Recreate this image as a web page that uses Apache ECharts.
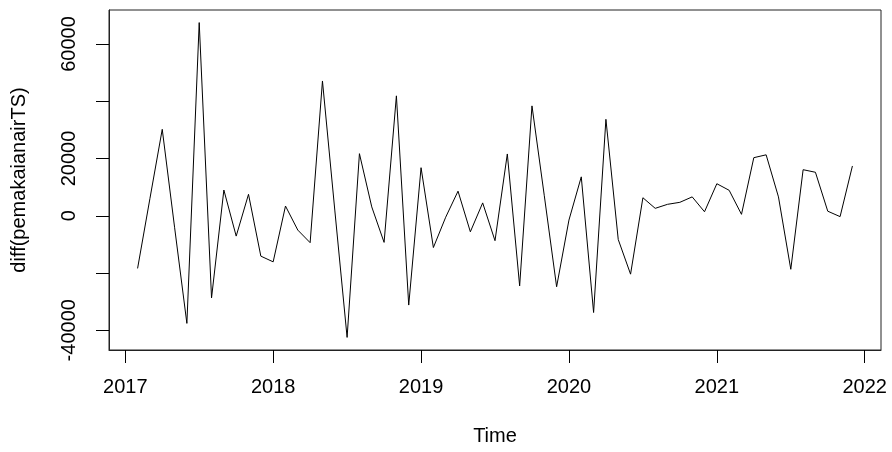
<!DOCTYPE html>
<html>
<head>
<meta charset="utf-8">
<script src="https://cdn.jsdelivr.net/npm/echarts@6/dist/echarts.min.js"></script>
<style>html,body{margin:0;padding:0;background:#fff}#c{width:892px;height:452px}</style>
</head>
<body>
<div id="c"></div>
<script>
const startYear = 2017;
const startMonth = 2; // first differenced observation: Feb 2017
const values = [
  -18400, 6000, 30200, -4000, -37600, 67500, -28700, 9000, -7100, 7500, -14100,
  -16100, 3400, -5000, -9400, 47100, 2000, -42500, 21700, 3100, -9300, 41900, -31200,
  16800, -11100, -500, 8600, -5600, 4500, -8700, 21600, -24500, 38400, 7000, -24800,
  -1500, 13600, -33800, 33700, -8300, -20400, 6300, 2600, 4000, 4700, 6600, 1400,
  11200, 8900, 500, 20300, 21300, 6600, -18700, 16100, 15200, 1600, -300, 17400
];
const xTicks = [2017, 2018, 2019, 2020, 2021, 2022];
const yTicks = [-40000, -20000, 0, 20000, 40000, 60000];
const yLabels = [-40000, 0, 20000, 60000];
const xName = 'Time';
const yName = 'diff(pemakaianairTS)';

const data = values.map((v, i) => [startYear + (startMonth - 1 + i) / 12, v]);
const xs = data.map(d => d[0]);
const xMin = Math.min(...xs), xMax = Math.max(...xs);
const yMin = Math.min(...values), yMax = Math.max(...values);
const xPad = (xMax - xMin) * 0.04, yPad = (yMax - yMin) * 0.04;

const font = '"Liberation Sans", Arial, sans-serif';
const chart = echarts.init(document.getElementById('c'), null, {renderer: 'canvas'});
chart.setOption({
  animation: false,
  backgroundColor: '#fff',
  grid: {left: 109, right: 11, top: 10, bottom: 102, show: true, borderColor: '#222', borderWidth: 1, backgroundColor: 'transparent'},
  xAxis: {
    type: 'value', min: xMin - xPad, max: xMax + xPad,
    name: xName, nameLocation: 'middle', nameGap: 76,
    nameTextStyle: {fontFamily: font, fontSize: 20, color: '#000'},
    axisLine: {show: true, onZero: false, lineStyle: {color: '#222', width: 1}},
    splitLine: {show: false},
    axisTick: {show: true, length: 13, customValues: xTicks, lineStyle: {color: '#000', width: 1}},
    axisLabel: {customValues: xTicks, margin: 27, fontFamily: font, fontSize: 20, color: '#000', formatter: v => String(v)}
  },
  yAxis: {
    type: 'value', min: yMin - yPad, max: yMax + yPad,
    name: yName, nameLocation: 'middle', nameGap: 80, nameRotate: 90,
    nameTextStyle: {fontFamily: font, fontSize: 20, color: '#000'},
    axisLine: {show: true, onZero: false, lineStyle: {color: '#222', width: 1}},
    splitLine: {show: false},
    axisTick: {show: true, length: 13, customValues: yTicks, lineStyle: {color: '#000', width: 1}},
    axisLabel: {customValues: yLabels, rotate: 90, margin: 30, align: 'center', fontFamily: font, fontSize: 20, color: '#000', formatter: v => String(v)}
  },
  series: [{
    type: 'line', data: data, showSymbol: false, symbol: 'none',
    lineStyle: {color: '#000', width: 1}, silent: true
  }]
});
</script>
</body>
</html>
